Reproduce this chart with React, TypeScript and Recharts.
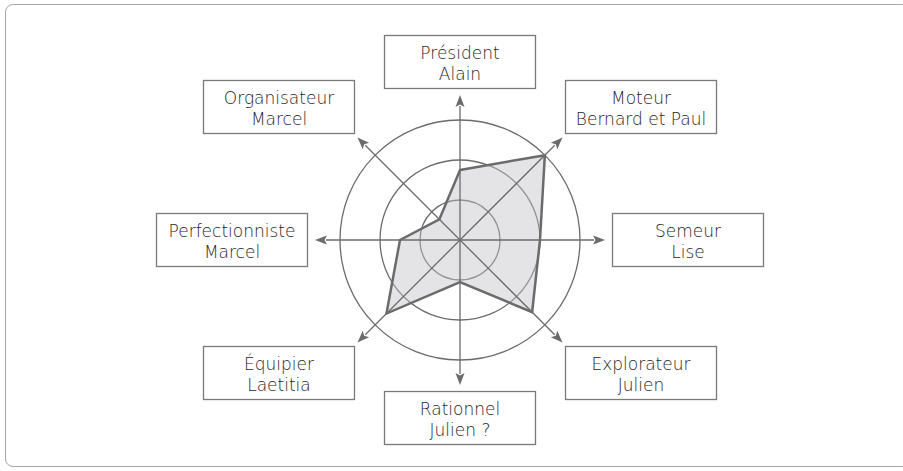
import { RadarChart, Radar, PolarGrid, PolarAngleAxis, PolarRadiusAxis } from 'recharts';

// roles around the wheel, clockwise from the top
const roles = ['Président', 'Moteur', 'Semeur', 'Explorateur', 'Rationnel', 'Équipier', 'Perfectionniste', 'Organisateur'];
const people = ['Alain', 'Bernard et Paul', 'Lise', 'Julien', 'Julien ?', 'Laetitia', 'Marcel', 'Marcel'];
const scores = [1.75, 3, 2, 2.55, 1.05, 2.6, 1.5, 0.73];

const data = roles.map((role, i) => ({ role, person: people[i], score: scores[i] }));

const CX = 460;
const CY = 240;
const LINE = '#6b6b6b';
const FONT = '"DejaVu Sans", sans-serif';

const RoleTick = (props: any) => {
  const { payload, index } = props;
  const cx = typeof props.cx === 'number' ? props.cx : CX;
  const cy = typeof props.cy === 'number' ? props.cy : CY;
  const rad = (payload.coordinate * Math.PI) / 180;
  const ux = Math.cos(rad);
  const uy = -Math.sin(rad);
  const px = -uy;
  const py = ux;

  // arrow from the centre out past the outer ring
  const tip = 145;
  const base = 133;
  const half = 4.5;
  const arrow = [
    `${cx + ux * tip},${cy + uy * tip}`,
    `${cx + ux * base + px * half},${cy + uy * base + py * half}`,
    `${cx + ux * (base + 2.5)},${cy + uy * (base + 2.5)}`,
    `${cx + ux * base - px * half},${cy + uy * base - py * half}`,
  ].join(' ');

  // label box placement
  const sx = Math.round(ux);
  const sy = Math.round(uy);
  const bx = cx + sx * (sy === 0 ? 228 : 181);
  const by = cy + sy * (sx === 0 ? 178 : 133);
  const w = 151;
  const h = 53;

  return (
    <g>
      <line x1={cx} y1={cy} x2={cx + ux * (base + 1)} y2={cy + uy * (base + 1)} stroke={LINE} strokeWidth={1.3} />
      <polygon points={arrow} fill={LINE} />
      <rect x={bx - w / 2} y={by - h / 2} width={w} height={h} fill="#fff" stroke="#7a7a7a" strokeWidth={1.3} />
      <text x={bx} y={by - 3} textAnchor="middle" fontFamily={FONT} fontWeight={300} fontSize={17} fill="#1e1e1e">
        {payload.value}
      </text>
      <text x={bx} y={by + 18} textAnchor="middle" fontFamily={FONT} fontWeight={300} fontSize={17} fill="#1e1e1e">
        {data[index]?.person ?? ''}
      </text>
    </g>
  );
};

export default function App() {
  return (
    <div style={{ position: 'absolute', left: 0, top: 0, width: 903, height: 471, background: '#fff' }}>
      <div
        style={{
          position: 'absolute',
          left: 5,
          top: 4,
          width: 905,
          height: 463,
          boxSizing: 'border-box',
          border: '1.5px solid #a6a6a6',
          borderRadius: 8,
        }}
      />
      <div style={{ position: 'absolute', left: 0, top: 0 }}>
        <RadarChart width={903} height={471} data={data} cx={CX} cy={CY} outerRadius={120} margin={{ top: 0, right: 0, bottom: 0, left: 0 }}>
          <PolarGrid gridType="circle" radialLines={false} stroke={LINE} strokeWidth={1.3} />
          <PolarRadiusAxis domain={[0, 3]} tickCount={4} axisLine={false} tick={false} />
          <PolarAngleAxis dataKey="role" tick={<RoleTick />} tickLine={false} axisLine={false} />
          <Radar
            dataKey="score"
            stroke={LINE}
            strokeWidth={2.5}
            fill="#c4c4c9"
            fillOpacity={0.45}
            dot={false}
            isAnimationActive={false}
          />
        </RadarChart>
      </div>
    </div>
  );
}
